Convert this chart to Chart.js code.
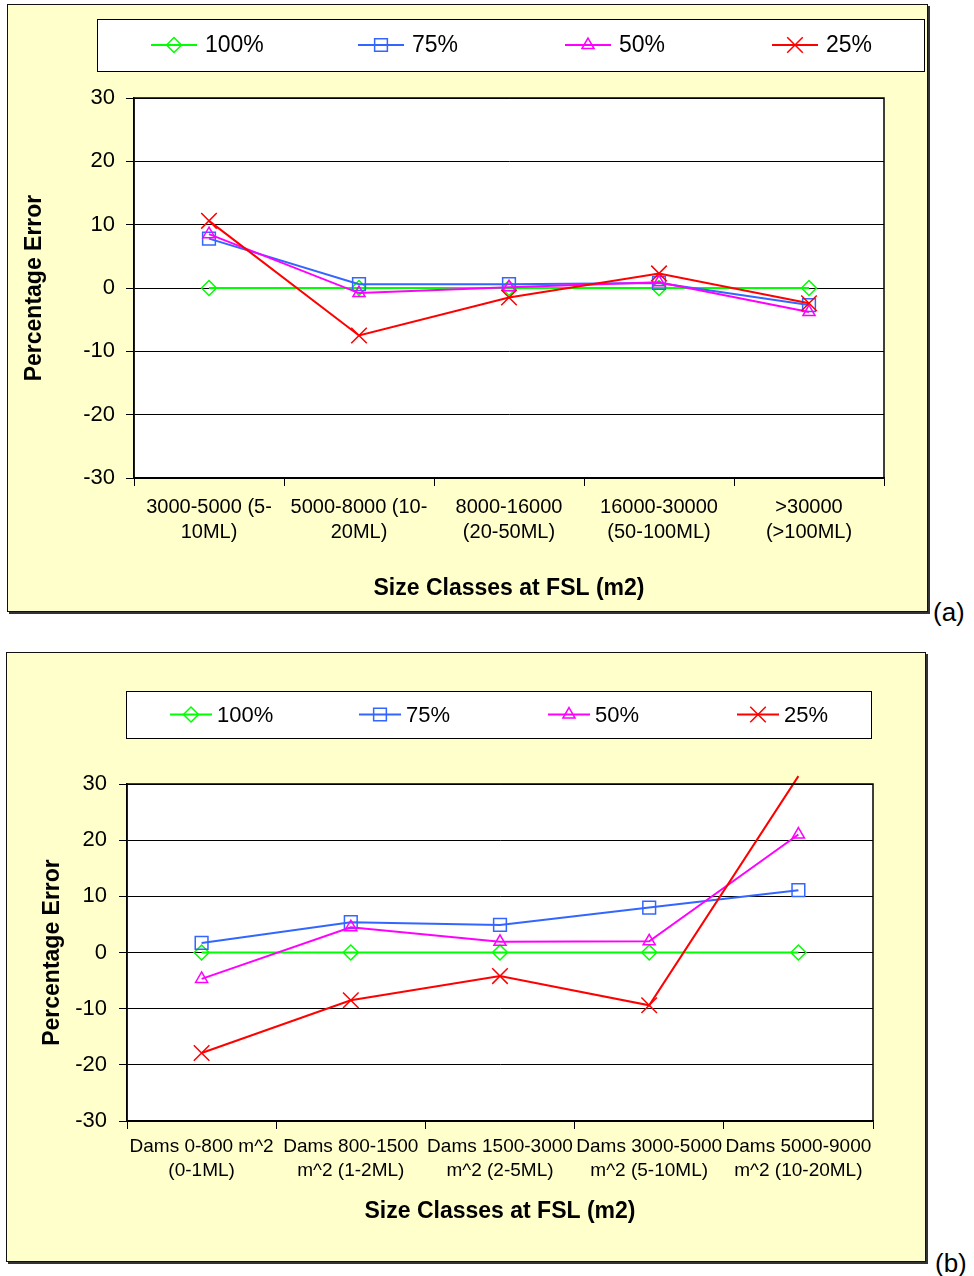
<!DOCTYPE html>
<html>
<head>
<meta charset="utf-8">
<script src="https://cdn.jsdelivr.net/npm/chart.js@4.4.1/dist/chart.umd.min.js"></script>
<style>
body { margin:0; background:#fff; width:974px; height:1276px; position:relative; font-family:"Liberation Sans", Arial, sans-serif; }
.box { position:absolute; background:#FFFFCC; border:1px solid #111; box-shadow:2px 2px 0 #333; }
.box canvas { display:block; }
.tag { position:absolute; font-size:26px; line-height:30px; color:#000; }
</style>
</head>
<body>
<div class="box" style="left:7px;top:4px;width:919px;height:606px"><canvas id="chartA" width="919" height="606"></canvas></div>
<div class="tag" style="left:933px;top:597px">(a)</div>
<div class="box" style="left:6px;top:652px;width:918px;height:608px"><canvas id="chartB" width="918" height="608"></canvas></div>
<div class="tag" style="left:935px;top:1248px">(b)</div>
<script>
// Data
const seriesLabels = ['100%', '75%', '50%', '25%'];
const yTicks = [-30, -20, -10, 0, 10, 20, 30];

const catsA = [['3000-5000 (5-', '10ML)'], ['5000-8000 (10-', '20ML)'], ['8000-16000', '(20-50ML)'], ['16000-30000', '(50-100ML)'], ['>30000', '(>100ML)']];
const a100 = [0, 0, 0, 0, 0];
const a75 = [7.8, 0.6, 0.6, 0.8, -2.7];
const a50 = [8.5, -0.8, 0.1, 0.9, -3.8];
const a25 = [10.6, -7.5, -1.5, 2.3, -2.4];

const catsB = [['Dams 0-800 m^2', '(0-1ML)'], ['Dams 800-1500', 'm^2 (1-2ML)'], ['Dams 1500-3000', 'm^2 (2-5ML)'], ['Dams 3000-5000', 'm^2 (5-10ML)'], ['Dams 5000-9000', 'm^2 (10-20ML)']];
const b100 = [0, 0, 0, 0, 0];
const b75 = [1.7, 5.4, 4.9, 8.0, 11.1];
const b50 = [-4.7, 4.5, 1.9, 2.0, 21.0];
const b25 = [-17.9, -8.5, -4.2, -9.4, 31.4];

const xTitle = 'Size Classes at FSL (m2)';
const yTitle = 'Percentage Error';

// Styles
const FONT = '"Liberation Sans", Arial, sans-serif';
const colors = ['#00FF00', '#3366FF', '#FF00FF', '#FF0000'];
const pointStyles = ['rectRot', 'rect', 'triangle', 'crossRot'];
const pointSizes = [7.5, 9, 7, 11];

Chart.defaults.font.family = FONT;
Chart.defaults.color = '#000';

// white plot area, frame and boxed legend
const boxLegend = {
    id: 'boxLegend',
    beforeDraw(chart) {
        const a = chart.chartArea, ctx = chart.ctx;
        ctx.save();
        ctx.fillStyle = '#fff';
        ctx.fillRect(a.left, a.top, a.right - a.left, a.bottom - a.top);
        ctx.restore();
    },
    afterDraw(chart, args, o) {
        const a = chart.chartArea, ctx = chart.ctx;
        ctx.save();
        ctx.strokeStyle = '#000';
        ctx.lineWidth = 1.5;
        ctx.strokeRect(a.left, a.top, a.right - a.left, a.bottom - a.top);

        ctx.fillStyle = '#fff';
        ctx.fillRect(o.x, o.y, o.w, o.h);
        ctx.lineWidth = 1;
        ctx.strokeRect(o.x + 0.5, o.y + 0.5, o.w, o.h);

        const cy = o.y + o.h / 2;
        ctx.font = o.size + 'px ' + FONT;
        ctx.textBaseline = 'middle';
        ctx.textAlign = 'left';
        chart.data.datasets.forEach((ds, i) => {
            const cx = o.x + o.first + i * o.step;
            ctx.strokeStyle = ds.borderColor;
            ctx.lineWidth = 2;
            ctx.beginPath();
            ctx.moveTo(cx - o.half, cy);
            ctx.lineTo(cx + o.half, cy);
            ctx.stroke();
            ctx.lineWidth = 1.5;
            ctx.fillStyle = 'rgba(0,0,0,0)';
            Chart.helpers.drawPoint(ctx, {pointStyle: ds.pointStyle, radius: pointSizes[i], rotation: 0, borderWidth: 1.5}, cx, cy);
            ctx.fillStyle = '#000';
            ctx.fillText(ds.label, cx + o.gap, cy + 1);
        });
        ctx.restore();
    }
};

function makeChart(id, cats, series, L) {
    const datasets = series.map((values, i) => ({
        label: seriesLabels[i],
        data: values,
        borderColor: colors[i],
        backgroundColor: colors[i],
        borderWidth: 2,
        pointStyle: pointStyles[i],
        pointRadius: (L.hidePoint && i === 3) ? values.map((v, k) => k === values.length - 1 ? 0 : pointSizes[i]) : pointSizes[i],
        pointBorderWidth: 1.5,
        pointBorderColor: colors[i],
        pointBackgroundColor: 'rgba(0,0,0,0)',
        tension: 0,
        clip: L.noClip ? false : undefined,
        order: 3 - i
    }));

    return new Chart(document.getElementById(id), {
        type: 'line',
        data: { labels: cats, datasets: datasets },
        plugins: [boxLegend],
        options: {
            responsive: false,
            animation: false,
            layout: { padding: { top: L.top, right: L.right, left: 0, bottom: 0 } },
            scales: {
                x: {
                    offset: true,
                    afterFit: s => { s.height = L.xHeight; },
                    grid: { offset: true, drawOnChartArea: false, color: '#000', tickLength: 8 },
                    border: { color: '#000', width: 1.5 },
                    ticks: { autoSkip: false, maxRotation: 0, padding: L.xPad, font: { size: L.xFont, lineHeight: 1.25 } },
                    title: { display: true, text: xTitle, font: { size: 23, weight: 'bold' }, padding: { top: 0, bottom: L.xTitlePad } }
                },
                y: {
                    min: yTicks[0],
                    max: yTicks[yTicks.length - 1],
                    afterFit: s => { s.width = L.yWidth; },
                    afterBuildTicks: s => { s.ticks = yTicks.map(v => ({ value: v })); },
                    grid: { color: '#000', tickLength: 8 },
                    border: { color: '#000', width: 1.5 },
                    ticks: { padding: L.yPad, font: { size: 22 } },
                    title: { display: true, text: yTitle, font: { size: 23, weight: 'bold' }, padding: { top: L.yTitlePad, bottom: 0 } }
                }
            },
            plugins: {
                legend: { display: false },
                tooltip: { enabled: false },
                boxLegend: L.legend
            }
        }
    });
}

makeChart('chartA', catsA, [a100, a75, a50, a25], {
    top: 93, right: 43, xHeight: 133, yWidth: 126,
    xPad: 9, xFont: 20, xTitlePad: 9, yPad: 11, yTitlePad: 13,
    legend: { x: 89, y: 14, w: 827, h: 52, first: 77, step: 207, half: 23, gap: 31, size: 23 }
});

makeChart('chartB', catsB, [b100, b75, b50, b25], {
    top: 131, right: 52, xHeight: 140, yWidth: 120,
    xPad: 6, xFont: 19, xTitlePad: 36, yPad: 12, yTitlePad: 32,
    noClip: true, hidePoint: true,
    legend: { x: 119, y: 38, w: 745, h: 47, first: 65, step: 189, half: 21, gap: 26, size: 22 }
});
</script>
</body>
</html>
